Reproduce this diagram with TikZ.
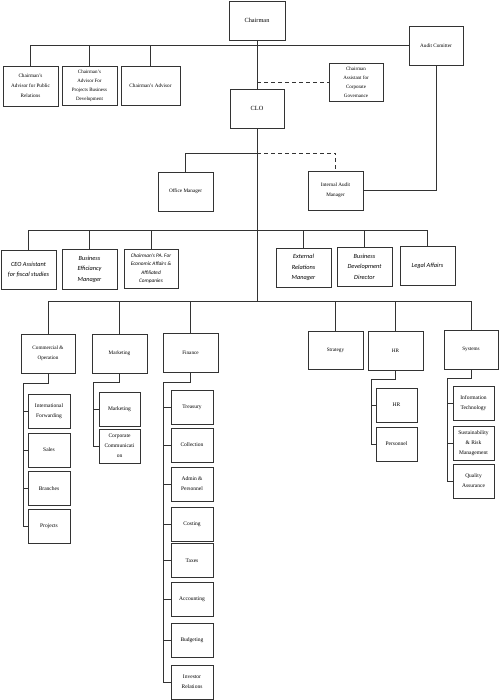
\documentclass[tikz,border=0pt]{standalone}
\usepackage{fontspec}
\setmainfont{Liberation Serif}
\newfontfamily\calib{Carlito}
\begin{document}
\begin{tikzpicture}[x=1pt,y=-1pt,
  line/.style={draw=black!80, line width=0.7pt},
  box/.style={line, fill=white, rectangle, inner sep=0pt, align=center,
    font=\fontsize{5.2}{10}\selectfont, minimum width=55pt, minimum height=39pt},
  smallbox/.style={box, font=\fontsize{5}{9}\selectfont},
  ibox/.style={box, font=\calib\itshape\fontsize{6.3}{10.5}\selectfont},
  subbox/.style={box, minimum width=42pt, minimum height=34pt, font=\fontsize{5.5}{10}\selectfont},
  dashline/.style={line, dashed, dash pattern=on 4pt off 3pt}
]
\useasboundingbox[fill=white] (0,0) rectangle (499,700);

% ---- top level
\node[box, minimum width=56pt, font=\fontsize{6.3}{10}\selectfont] (chair) at (257,20.5) {Chairman};
\node[box, minimum width=54pt] (audit) at (436,45.5) {Audit Comitter};
\node[box, minimum height=40pt] (adv1) at (30.5,86) {Chairman's\\Advisor for Public\\Relations};
\node[smallbox] (adv2) at (89.5,85.5) {Chairman's\\Advisor For\\Projects Business\\Development};
\node[box, minimum width=59pt] (adv3) at (150.5,85.5) {Chairman's Advisor};
\node[smallbox, minimum width=54pt, minimum height=38pt] (cag) at (356,82) {Chairman\\Assistant for\\Corporate\\Governance};
\node[box, minimum width=54pt, font=\fontsize{6.3}{10}\selectfont] (clo) at (257,108.5) {CLO};
\node[box] (offm) at (185.5,191.5) {Office Manager};
\node[box] (iam) at (335.5,190.5) {Internal Audit\\Manager};

\coordinate (j1) at (257,153);
\coordinate (j2) at (257,230);
\coordinate (j3) at (257,301);

% ---- second row
\node[ibox] (r1) at (28.5,269.5) {CEO Assistant\\for fiscal studies};
\node[ibox, minimum height=40pt] (r2) at (89.5,269) {Business\\Efficiancy\\Manager};
\node[ibox, minimum width=54pt, font=\calib\itshape\fontsize{5.3}{8.6}\selectfont] (r3) at (151,268.5) {Chairman's PA. For\\Economic Affairs \&\\Affiliated\\Companies};
\node[ibox] (r4) at (303.5,267.5) {External\\Relations\\Manager};
\node[ibox] (r5) at (364.5,266.5) {Business\\Development\\Director};
\node[ibox] (r6) at (427.5,265.5) {Legal Affairs};

% ---- departments
\node[box, minimum width=54pt] (comm) at (48,353.5) {Commercial \&\\Operation};
\node[box] (mkt) at (119.5,353.5) {Marketing};
\node[box] (fin) at (190.5,352.5) {Finance};
\node[box, minimum height=38pt] (strat) at (335.5,350) {Strategy};
\node[box] (hr) at (395.5,350.5) {HR};
\node[box, minimum width=54pt] (sys) at (471,349.5) {Systems};

% ---- sub items
\node[subbox] (c1) at (49,411.5) {International\\Forwarding};
\node[subbox] (c2) at (49,450) {Sales};
\node[subbox] (c3) at (49,488.5) {Branches};
\node[subbox] (c4) at (49,526) {Projects};

\node[subbox, minimum width=41pt] (m1) at (119.5,409) {Marketing};
\node[subbox, minimum width=41pt] (m2) at (119.5,446) {Corporate\\Communicati\\on};

\node[subbox] (f1) at (192,407.5) {Treasury};
\node[subbox] (f2) at (192,445) {Collection};
\node[subbox] (f3) at (192,484) {Admin \&\\Personnel};
\node[subbox] (f4) at (192,524) {Costing};
\node[subbox] (f5) at (192,560.5) {Taxes};
\node[subbox] (f6) at (192,599) {Accounting};
\node[subbox] (f7) at (192,640) {Budgeting};
\node[subbox] (f8) at (192,682) {Investor\\Relations};

\node[subbox, minimum width=41pt] (h1) at (396.5,405) {HR};
\node[subbox, minimum width=41pt] (h2) at (396.5,444) {Personnel};

\node[subbox, minimum width=41pt] (s1) at (473.5,403) {Information\\Technology};
\node[subbox, minimum width=41pt] (s2) at (473.5,443) {Sustainability\\\& Risk\\Management};
\node[subbox, minimum width=41pt] (s3) at (473.5,481) {Quality\\Assurance};

% ---- connectors: top
\draw[line] (adv1.north) |- (audit.west);
\draw[line] (adv2.north) -- (adv2.north |- audit.west);
\draw[line] (adv3.north) -- (adv3.north |- audit.west);
\draw[line] (chair.south) -- (clo.north);
\draw[dashline] (clo.north |- cag.west) -- (cag.west);
\draw[line] (audit.south) |- (iam.east);
\draw[line] (clo.south) -- (j3);
\draw[line] (offm.north) |- (j1);
\draw[dashline] (j1) -| (iam.north);

% ---- second row bus
\draw[line] (r1.north) -- (r1.north |- j2) -- (r6.north |- j2) -- (r6.north);
\foreach \n in {r2,r3,r4,r5} \draw[line] (\n.north) -- (\n.north |- j2);

% ---- department bus
\draw[line] (comm.north) -- (comm.north |- j3) -- (sys.north |- j3) -- (sys.north);
\foreach \n in {mkt,fin,strat,hr} \draw[line] (\n.north) -- (\n.north |- j3);

% ---- sub item spines
\coordinate (cs) at (23,383);
\coordinate (ms) at (93,382);
\coordinate (fs) at (163,382);
\coordinate (hs) at (371,379);
\coordinate (ss) at (447,378);

\draw[line] (comm.south) |- (cs) |- (c4.west);
\foreach \n in {c1,c2,c3} \draw[line] (cs |- \n.west) -- (\n.west);

\draw[line] (mkt.south) |- (ms) |- (m2.west);
\draw[line] (ms |- m1.west) -- (m1.west);

\draw[line] (fin.south) |- (fs) |- (f8.west);
\foreach \n in {f1,f2,f3,f4,f5,f6,f7} \draw[line] (fs |- \n.west) -- (\n.west);

\draw[line] (hr.south) |- (hs) |- (h2.west);
\draw[line] (hs |- h1.west) -- (h1.west);

\draw[line] (sys.south) |- (ss) |- (s3.west);
\foreach \n in {s1,s2} \draw[line] (ss |- \n.west) -- (\n.west);
\end{tikzpicture}
\end{document}
